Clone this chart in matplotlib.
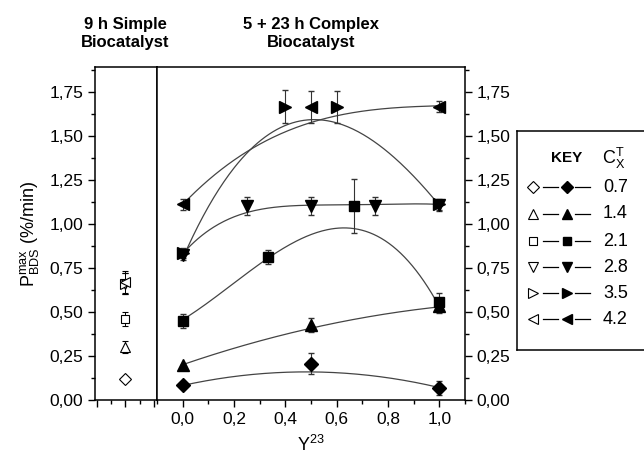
import numpy as np
import matplotlib.pyplot as plt
from matplotlib.ticker import MultipleLocator, FuncFormatter

plt.rcParams['font.family'] = ['Liberation Sans', 'DejaVu Sans']
plt.rcParams['mathtext.fontset'] = 'custom'
plt.rcParams['mathtext.rm'] = 'Liberation Sans'
plt.rcParams['mathtext.it'] = 'Liberation Sans:italic'

# concentration key and markers
cx = ['0.7', '1.4', '2.1', '2.8', '3.5', '4.2']
marks = ['D', '^', 's', 'v', '>', '<']
msizes = [7, 8, 7, 8, 8, 8]

# 9 h simple biocatalyst (open symbols)
simple_y = [0.12, 0.30, 0.46, 0.66, 0.66, 0.67]
simple_err = [0.0, 0.035, 0.04, 0.06, 0.06, 0.06]

# 5 + 23 h complex biocatalyst: measured points
pts_x = [
    [0.0, 0.5, 1.0],
    [0.0, 0.5, 1.0],
    [0.0, 0.333, 0.667, 1.0],
    [0.0, 0.25, 0.5, 0.75, 1.0],
    [0.0, 0.4, 0.6, 1.0],
    [0.0, 0.5, 1.0],
]
pts_y = [
    [0.085, 0.205, 0.07],
    [0.20, 0.425, 0.535],
    [0.45, 0.81, 1.10, 0.555],
    [0.825, 1.10, 1.10, 1.10, 1.105],
    [0.835, 1.665, 1.665, 1.11],
    [1.11, 1.665, 1.665],
]
pts_err = [
    [0.0, 0.06, 0.04],
    [0.0, 0.04, 0.04],
    [0.04, 0.04, 0.155, 0.05],
    [0.03, 0.05, 0.05, 0.05, 0.03],
    [0.03, 0.095, 0.09, 0.03],
    [0.03, 0.09, 0.03],
]

# fitted curves, values
fit_x = [
    [0.0, 0.25, 0.5, 0.75, 1.0],
    [0.0, 0.25, 0.5, 0.75, 1.0],
    [0.0, 0.333, 0.5, 0.62, 0.75, 0.873, 1.0],
    [0.0, 0.1, 0.25, 0.4, 0.5, 0.75, 1.0],
    [0.0, 0.1, 0.2, 0.276, 0.4, 0.5, 0.6, 0.75, 1.0],
    [0.0, 0.276, 0.5, 0.6, 0.75, 1.0],
]
fit_y = [
    [0.085, 0.135, 0.165, 0.135, 0.07],
    [0.20, 0.315, 0.41, 0.475, 0.53],
    [0.455, 0.81, 0.93, 0.98, 0.94, 0.795, 0.53],
    [0.83, 0.96, 1.065, 1.10, 1.105, 1.11, 1.11],
    [0.83, 1.07, 1.29, 1.43, 1.572, 1.632, 1.60, 1.40, 1.12],
    [1.11, 1.43, 1.58, 1.61, 1.648, 1.67],
]
fit_deg = [2, 2, 3, 4, 3, 3]

comma = FuncFormatter(lambda v, p: ('%.2f' % v).replace('.', ','))
comma1 = FuncFormatter(lambda v, p: ('%.1f' % v).replace('.', ','))

fig = plt.figure(figsize=(6.44, 4.55), dpi=100)
W, H = 644.0, 455.0
ax0 = fig.add_axes([95 / W, 55 / H, 62 / W, 333 / H])
ax = fig.add_axes([157 / W, 55 / H, 308 / W, 333 / H])

ymax = 1.89
for a in (ax0, ax):
    a.set_ylim(0, ymax)
    a.yaxis.set_major_locator(MultipleLocator(0.25))
    a.yaxis.set_minor_locator(MultipleLocator(0.125))
    a.tick_params(which='both', direction='out', labelsize=12.5, width=1.0)
    a.tick_params(which='major', length=5)
    a.tick_params(which='minor', length=3)
    for s in a.spines.values():
        s.set_linewidth(1.1)

# left panel
ax0.set_xlim(-0.06, 2.1)
ax0.xaxis.set_major_locator(MultipleLocator(1))
ax0.xaxis.set_minor_locator(MultipleLocator(0.5))
ax0.xaxis.set_major_formatter(FuncFormatter(lambda v, p: ''))
ax0.yaxis.set_major_formatter(comma)
for i in range(6):
    ax0.errorbar([1.0], [simple_y[i]], yerr=[simple_err[i]], fmt=marks[i],
                 ms=msizes[i] - 1, mfc='white', mec='black', mew=0.8,
                 ecolor='black', elinewidth=0.7, capsize=2.5)
ax0.set_ylabel(r'$\mathregular{P^{max}_{BDS}}$ (%/min)', fontsize=13, labelpad=6)

# main panel
ax.set_xlim(-0.1, 1.1)
ax.xaxis.set_major_locator(MultipleLocator(0.2))
ax.xaxis.set_minor_locator(MultipleLocator(0.1))
ax.xaxis.set_major_formatter(comma1)
ax.yaxis.tick_right()
ax.yaxis.set_label_position('right')
ax.yaxis.set_major_formatter(comma)
ax.set_xlabel(r'Y$^{23}$', fontsize=13, labelpad=6)

xs = np.linspace(0, 1, 200)
for i in range(6):
    c = np.polyfit(fit_x[i], fit_y[i], fit_deg[i])
    ax.plot(xs, np.polyval(c, xs), color='#444444', lw=0.9, zorder=1)
for i in range(6):
    ax.errorbar(pts_x[i], pts_y[i], yerr=pts_err[i], fmt=marks[i],
                ms=msizes[i], color='black', ecolor='#333333',
                elinewidth=0.8, capsize=2.5, zorder=3)

# titles
fig.text(125 / W, 1 - 33 / H, '9 h Simple\nBiocatalyst', ha='center',
         va='center', fontsize=12, fontweight='bold', linespacing=1.25)
fig.text(311 / W, 1 - 33 / H, '5 + 23 h Complex\nBiocatalyst', ha='center',
         va='center', fontsize=12, fontweight='bold', linespacing=1.25)

# key box
kx0, kx1, ky0, ky1 = 517.0, 660.0, 131.0, 350.0
kax = fig.add_axes([kx0 / W, (H - ky1) / H, (kx1 - kx0) / W, (ky1 - ky0) / H])
kax.set_xlim(kx0, kx1)
kax.set_ylim(ky1, ky0)
kax.set_xticks([])
kax.set_yticks([])
for s in kax.spines.values():
    s.set_linewidth(1.1)
kax.text(567, 158, 'KEY', ha='center', va='center', fontsize=11, fontweight='bold')
kax.text(602, 158, r'$\mathregular{C_X^T}$', ha='left', va='center', fontsize=13)
rows = [187, 214, 241, 267, 293, 319]
for i in range(6):
    yy = rows[i]
    kax.plot([533], [yy], marks[i], ms=msizes[i] - 1, mfc='white',
             mec='black', mew=0.8, clip_on=False)
    kax.plot([543, 558], [yy, yy], color='black', lw=0.9)
    kax.plot([575, 590], [yy, yy], color='black', lw=0.9)
    kax.plot([567], [yy], marks[i], ms=msizes[i] - 1, color='black')
    kax.text(603, yy, cx[i], ha='left', va='center', fontsize=13)

fig.savefig('out.png', dpi=100)
